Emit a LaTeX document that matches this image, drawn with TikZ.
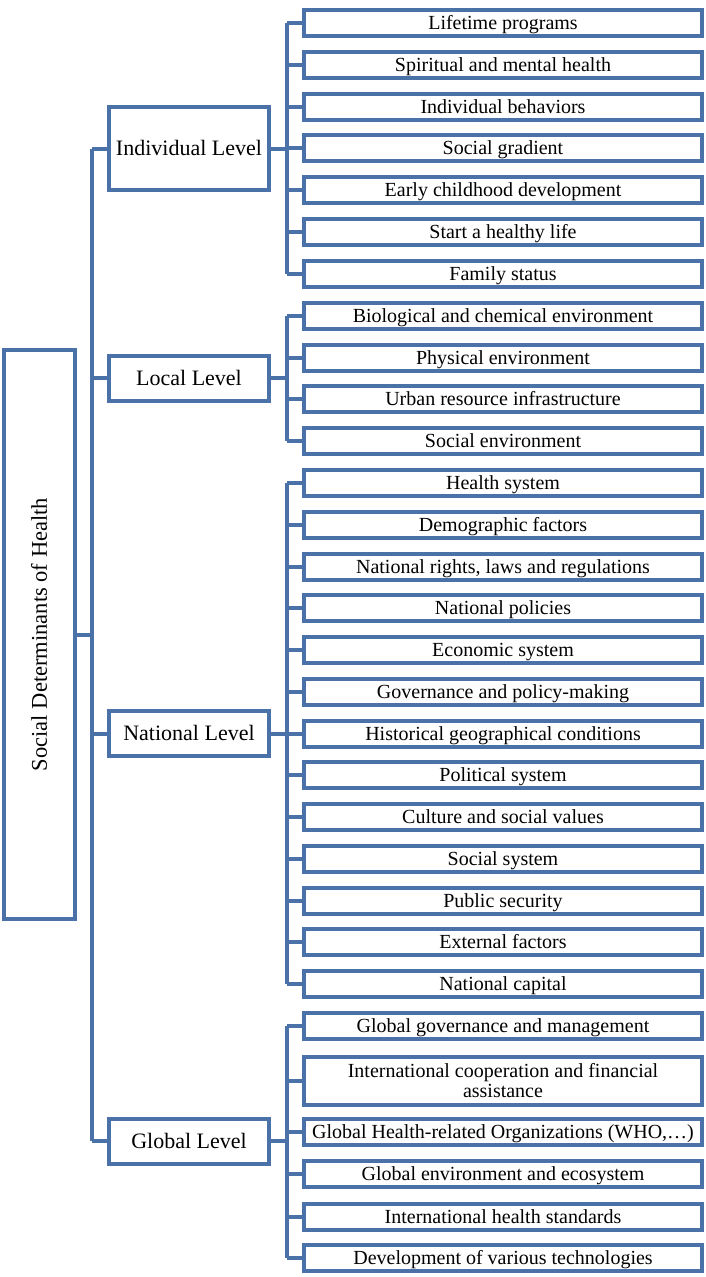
\documentclass[tikz,border=0pt]{standalone}
\usepackage{fontspec}
\setmainfont{Liberation Serif}
\definecolor{lineblue}{RGB}{74,114,168}
\begin{document}
\begin{tikzpicture}[x=1pt,y=-1pt,
  every node/.style={font=\fontsize{20}{20}\selectfont},
  leaf/.style={draw=lineblue,line width=4pt,fill=white,minimum width=398pt,minimum height=26pt,inner sep=0pt,align=center,text height=15pt,text depth=1.8pt},
  level/.style={draw=lineblue,line width=4pt,fill=white,minimum width=160pt,minimum height=45pt,inner sep=0pt,font=\fontsize{22}{24}\selectfont,text height=16.5pt,text depth=2pt},
  conn/.style={draw=lineblue,line width=4pt}]
\useasboundingbox (0,0) rectangle (706,1277);
\coordinate (t) at (92,0);
\coordinate (s) at (286.5,0);
% root
\node[draw=lineblue,line width=4pt,minimum width=71pt,minimum height=569pt,inner sep=0pt] (root) at (39.5,634.5) {};
\node[rotate=90,font=\fontsize{22.5}{24}\selectfont,text height=16.9pt,text depth=2pt] (roottext) at (root.center) {Social Determinants of Health};
% levels
\node[level,minimum height=83pt] (ind) at (189,148.5) {Individual Level};
\node[level] (loc) at (189,378) {Local Level};
\node[level] (nat) at (189,733.5) {National Level};
\node[level] (glo) at (189,1141) {Global Level};
% leaves individual
\node[leaf] (i1) at (503,22.5) {Lifetime programs};
\node[leaf] (i2) at (503,64.5) {Spiritual and mental health};
\node[leaf] (i3) at (503,106.5) {Individual behaviors};
\node[leaf] (i4) at (503,148) {Social gradient};
\node[leaf] (i5) at (503,190) {Early childhood development};
\node[leaf] (i6) at (503,232) {Start a healthy life};
\node[leaf] (i7) at (503,274) {Family status};
% local
\node[leaf] (l1) at (503,316) {Biological and chemical environment};
\node[leaf] (l2) at (503,357.5) {Physical environment};
\node[leaf] (l3) at (503,399) {Urban resource infrastructure};
\node[leaf] (l4) at (503,441) {Social environment};
% national
\node[leaf] (n1) at (503,483) {Health system};
\node[leaf] (n2) at (503,524.5) {Demographic factors};
\node[leaf] (n3) at (503,566.5) {National rights, laws and regulations};
\node[leaf] (n4) at (503,608) {National policies};
\node[leaf] (n5) at (503,650) {Economic system};
\node[leaf] (n6) at (503,691.5) {Governance and policy-making};
\node[leaf] (n7) at (503,733.5) {Historical geographical conditions};
\node[leaf] (n8) at (503,775) {Political system};
\node[leaf] (n9) at (503,817) {Culture and social values};
\node[leaf] (n10) at (503,859) {Social system};
\node[leaf] (n11) at (503,900.5) {Public security};
\node[leaf] (n12) at (503,942) {External factors};
\node[leaf] (n13) at (503,984) {National capital};
% global
\node[leaf] (g1) at (503,1025.5) {Global governance and management};
\node[leaf,minimum height=48pt,text height={},text depth={}] (g2) at (503,1081) {International cooperation and financial\\assistance};
\node[leaf] (g3) at (503,1132) {Global Health-related Organizations (WHO,\ldots)};
\node[leaf] (g4) at (503,1174) {Global environment and ecosystem};
\node[leaf] (g5) at (503,1216.5) {International health standards};
\node[leaf] (g6) at (503,1258) {Development of various technologies};
% main trunk
\draw[conn] (root.east) -- (root.east -| t);
\draw[conn] (ind.west -| t) -- (glo.west -| t);
\foreach \n in {ind,loc,nat,glo} \draw[conn] (\n.west) -- (\n.west -| t);
% sub trunks
\foreach \n in {ind,loc,nat,glo} \draw[conn] (\n.east) -- (\n.east -| s);
\draw[conn] (i1.west -| s) -- (i7.west -| s);
\draw[conn] (l1.west -| s) -- (l4.west -| s);
\draw[conn] (n1.west -| s) -- (n13.west -| s);
\draw[conn] (g1.west -| s) -- (g6.west -| s);
\foreach \n in {i1,i2,i3,i4,i5,i6,i7,l1,l2,l3,l4,n1,n2,n3,n4,n5,n6,n7,n8,n9,n10,n11,n12,n13,g1,g2,g3,g4,g5,g6}
  \draw[conn] (\n.west) -- (\n.west -| s);
\end{tikzpicture}
\end{document}
